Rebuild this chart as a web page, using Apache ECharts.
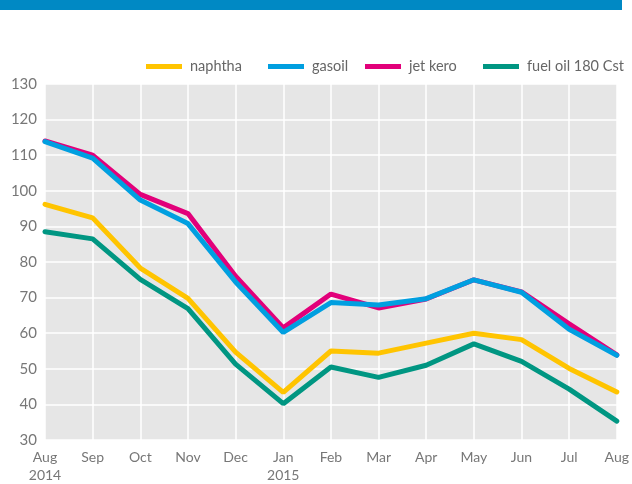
<!DOCTYPE html>
<html>
<head>
<meta charset="utf-8">
<script src="https://cdn.jsdelivr.net/npm/echarts@6/dist/echarts.min.js"></script>
<style>
  html, body { margin: 0; padding: 0; background: #fff; }
  #main { width: 632px; height: 484px; }
</style>
</head>
<body>
<div id="main"></div>
<script>
// months Aug 2014 - Aug 2015
const months = ['Aug\n2014', 'Sep', 'Oct', 'Nov', 'Dec', 'Jan\n2015', 'Feb', 'Mar', 'Apr', 'May', 'Jun', 'Jul', 'Aug']

const naphtha = [96.2, 92.4, 78.3, 69.8, 54.7, 43.4, 55.0, 54.4, 57.2, 60.0, 58.2, 50.1, 43.5]
const gasoil = [113.8, 109.2, 97.4, 90.8, 74.4, 60.2, 68.6, 67.9, 69.7, 75.0, 71.5, 61.1, 53.8]
const jetKero = [114.0, 110.0, 99.0, 93.6, 76.0, 61.5, 71.0, 67.1, 69.6, 75.0, 71.6, 62.6, 53.9]
const fuelOil = [88.5, 86.5, 75.1, 66.9, 51.3, 40.2, 50.5, 47.6, 51.0, 57.0, 52.1, 44.3, 35.3]

const legendNames = ['naphtha', 'gasoil', 'jet kero', 'fuel oil 180 Cst']

const yTicks = { min: 30, max: 130, step: 10 }

window.addEventListener('load', () => {
    main()
})

function makeLine(name, data, color) {
    return {
        name,
        type: 'line',
        data,
        showSymbol: false,
        symbol: 'none',
        itemStyle: { color },
        lineStyle: { color, width: 5, cap: 'round' },
    }
}

function main() {
    const chart = echarts.init(document.getElementById('main'))
    const labelFont = 'Lato, "Open Sans", sans-serif'

    // each legend entry sits at its own spot, like the original
    const legendLeft = [146, 268, 365, 483]
    const legend = legendNames.map((name, i) => ({
        top: 59,
        left: legendLeft[i],
        padding: 0,
        itemWidth: 36,
        itemHeight: 5,
        itemGap: 0,
        icon: 'rect',
        data: [name],
        textStyle: { color: '#666', fontSize: 14.5, fontFamily: labelFont, padding: [0, 0, 0, 3] },
    }))

    const option = {
        animation: false,
        textStyle: { fontFamily: labelFont },
        graphic: [{
            type: 'rect',
            shape: { x: 0, y: 0, width: 622, height: 10 },
            style: { fill: '#0089c4' },
        }],
        legend,
        grid: {
            left: 45, right: 9, top: 84, bottom: 40,
            show: true,
            backgroundColor: '#e6e6e6',
            borderWidth: 0,
        },
        xAxis: {
            type: 'category',
            data: months,
            boundaryGap: false,
            axisLine: { show: false },
            axisTick: { show: false },
            axisLabel: { color: '#777', fontSize: 14, margin: 8, lineHeight: 18, interval: 0 },
            splitLine: { show: true, lineStyle: { color: '#fff', width: 1.5 } },
        },
        yAxis: {
            type: 'value',
            min: yTicks.min,
            max: yTicks.max,
            interval: yTicks.step,
            axisLine: { show: false },
            axisTick: { show: false },
            axisLabel: { color: '#777', fontSize: 15, margin: 8 },
            splitLine: { show: true, lineStyle: { color: '#fff', width: 1.5 } },
        },
        series: [
            makeLine('naphtha', naphtha, '#ffc400'),
            makeLine('jet kero', jetKero, '#e2007a'),
            makeLine('gasoil', gasoil, '#009fe0'),
            makeLine('fuel oil 180 Cst', fuelOil, '#009682'),
        ],
    }
    chart.setOption(option)
}
</script>
</body>
</html>
